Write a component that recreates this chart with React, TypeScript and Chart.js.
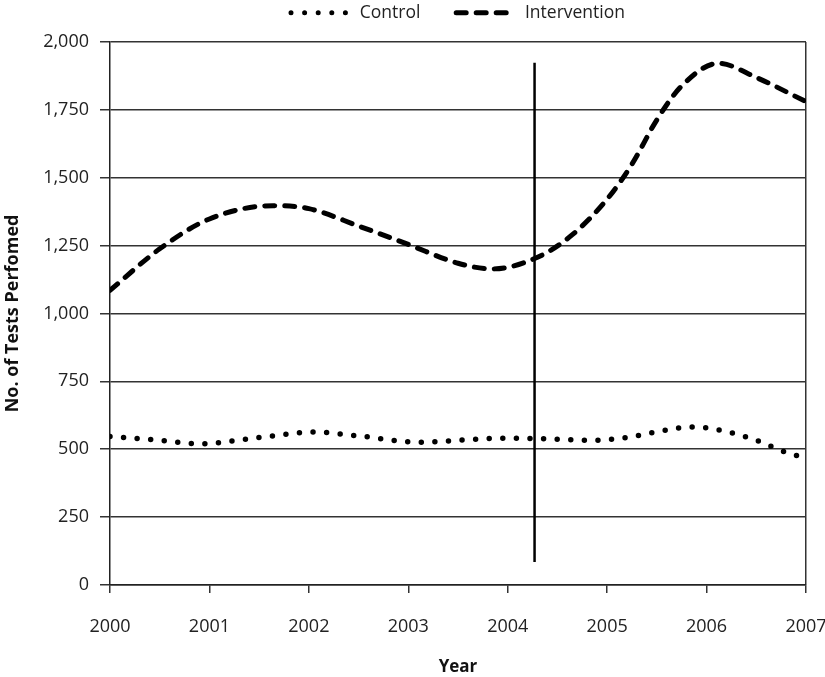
import React, { useEffect, useRef } from 'react';
import { Chart, registerables } from 'chart.js';

Chart.register(...registerables);

const xTickYears = [2000, 2001, 2002, 2003, 2004, 2005, 2006, 2007];
const yTickValues = [0, 250, 500, 750, 1000, 1250, 1500, 1750, 2000];

const controlYears = [2000, 2000.5, 2000.9, 2001.5, 2002.05, 2002.5, 2003.1, 2003.6, 2004, 2004.4, 2004.85, 2005.2, 2005.47, 2005.87, 2006.2, 2006.5, 2006.75, 2007];
const controlValues = [547, 533, 520, 543, 563, 549, 526, 535, 541, 538, 533, 543, 562, 582, 565, 533, 495, 466];

const interventionYears = [2000, 2000.5, 2001, 2001.64, 2002, 2002.5, 2003, 2003.5, 2003.84, 2004.3, 2004.65, 2005, 2005.25, 2005.5, 2005.75, 2006.12, 2006.5, 2007];
const interventionValues = [1085, 1238, 1348, 1397, 1386, 1322, 1254, 1185, 1164, 1207, 1290, 1421, 1550, 1713, 1838, 1921, 1869, 1780];

const markerYear = 2004.27;
const markerRange = [85, 1923];

const seriesLabels = ['Control', 'Intervention'];
const xTitle = 'Year';
const yTitle = 'No. of Tests Perfomed';

const FONT = "'Open Sans', 'Noto Sans', sans-serif";

export default function App() {
  const ref = useRef<HTMLCanvasElement>(null);

  useEffect(() => {
    const canvas = ref.current;
    if (!canvas) return;
    const chart = new Chart(canvas, {
      type: 'line',
      data: {
        datasets: [
          {
            label: seriesLabels[0],
            data: controlYears.map((x, i) => ({ x, y: controlValues[i] })),
            borderColor: '#000',
            backgroundColor: '#000',
            borderWidth: 5.5,
            borderDash: [0, 13.6],
            borderCapStyle: 'round',
            pointRadius: 0,
            pointHoverRadius: 0,
            cubicInterpolationMode: 'monotone',
            fill: false,
          },
          {
            label: seriesLabels[1],
            data: interventionYears.map((x, i) => ({ x, y: interventionValues[i] })),
            borderColor: '#000',
            backgroundColor: '#000',
            borderWidth: 5,
            borderDash: [10, 10],
            borderCapStyle: 'round',
            pointRadius: 0,
            pointHoverRadius: 0,
            cubicInterpolationMode: 'monotone',
            fill: false,
          },
          {
            label: 'marker',
            data: markerRange.map((y) => ({ x: markerYear, y })),
            borderColor: '#000',
            backgroundColor: '#000',
            borderWidth: 2.5,
            pointRadius: 0,
            pointHoverRadius: 0,
            fill: false,
          },
        ],
      },
      options: {
        animation: false,
        responsive: true,
        maintainAspectRatio: false,
        events: [],
        layout: { padding: { left: 0, right: 0, top: 0, bottom: 0 } },
        plugins: {
          tooltip: { enabled: false },
          subtitle: {
            display: true,
            text: '',
            position: 'top',
            weight: 500,
            font: { size: 2 },
            padding: { top: 0, bottom: 8 },
          },
          legend: {
            display: true,
            position: 'top',
            fullSize: false,
            labels: {
              usePointStyle: true,
              pointStyleWidth: 60,
              padding: 4,
              color: '#222',
              font: { family: FONT, size: 17.5 },
              generateLabels: (ch: any) =>
                ch.data.datasets.slice(0, 2).map((ds: any, i: number) => ({
                  text: i === 0 ? ds.label + '\u00a0'.repeat(7) : ds.label,
                  fillStyle: '#000',
                  strokeStyle: '#000',
                  lineWidth: 5,
                  lineDash: ds.borderDash,
                  lineCap: 'round',
                  pointStyle: 'line',
                  hidden: false,
                  datasetIndex: i,
                  fontColor: '#222',
                })),
            },
          },
        },
        scales: {
          x: {
            type: 'linear',
            min: xTickYears[0],
            max: xTickYears[xTickYears.length - 1],
            afterBuildTicks: (s: any) => {
              s.ticks = xTickYears.map((v) => ({ value: v }));
            },
            ticks: {
              callback: (v: any) => String(v),
              color: '#222',
              font: { family: FONT, size: 18 },
              padding: 23,
              maxRotation: 0,
              autoSkip: false,
            },
            grid: {
              color: (c: any) => (c.tick && c.tick.value === xTickYears[xTickYears.length - 1] ? '#333' : 'rgba(0,0,0,0)'),
              tickColor: '#333',
              lineWidth: 1.5,
              tickLength: 8,
              drawOnChartArea: true,
            },
            border: { color: '#222', width: 1.5 },
            title: {
              display: true,
              text: xTitle,
              color: '#111',
              font: { family: FONT, size: 17, weight: 'bold' },
              padding: { top: 4, bottom: 0 },
            },
            afterFit: (s: any) => {
              s.height = 92;
              s.paddingLeft = 0;
              s.paddingRight = 19;
            },
          },
          y: {
            type: 'linear',
            min: yTickValues[0],
            max: yTickValues[yTickValues.length - 1],
            afterBuildTicks: (s: any) => {
              s.ticks = yTickValues.map((v) => ({ value: v }));
            },
            ticks: {
              color: '#222',
              font: { family: FONT, size: 18 },
              padding: 11,
            },
            grid: {
              color: '#333',
              lineWidth: 1.5,
              tickLength: 10,
            },
            border: { color: '#222', width: 1.5 },
            title: {
              display: true,
              text: yTitle,
              color: '#111',
              font: { family: FONT, size: 18, weight: 'bold' },
              padding: { top: 2, bottom: 2 },
            },
            afterFit: (s: any) => {
              s.width = 110;
            },
          },
        },
      },
    } as any);
    return () => chart.destroy();
  }, []);

  return (
    <div style={{ position: 'absolute', left: 0, top: 0, width: 825, height: 677 }}>
      <canvas ref={ref} />
    </div>
  );
}
